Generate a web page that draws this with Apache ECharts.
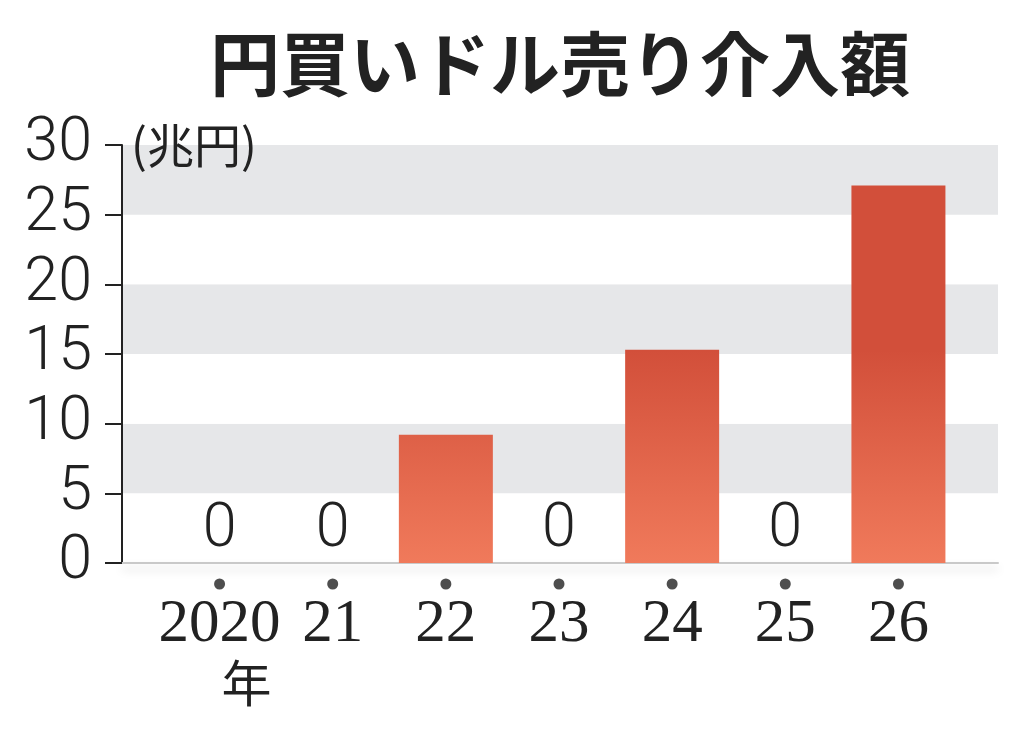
<!DOCTYPE html>
<html>
<head>
<meta charset="utf-8">
<script src="https://cdn.jsdelivr.net/npm/echarts@6/dist/echarts.min.js"></script>
<style>
html,body{margin:0;padding:0;background:#fff;}
#chart{width:1024px;height:739px;}
</style>
</head>
<body>
<div id="chart"></div>
<script>
const titleText = '円買いドル売り介入額';
const unitText = '(兆円)';
const years = ['2020', '21', '22', '23', '24', '25', '26'];
const amounts = [0, 0, 9.2, 0, 15.3, 0, 27.1];
const yMin = 0;
const yMax = 30;
const yStep = 5;

const chart = echarts.init(document.getElementById('chart'));
const ink = '#222222';
const barGradient = {
  type: 'linear', x: 0, y: 350, x2: 0, y2: 563, global: true,
  colorStops: [
    { offset: 0, color: '#d24f3a' },
    { offset: 1, color: '#f07a5b' }
  ]
};

chart.setOption({
  backgroundColor: '#ffffff',
  animation: false,
  title: [
    {
      text: titleText, left: 205, top: 24,
      textStyle: { fontFamily: 'Noto Sans CJK JP', fontWeight: 'bold', fontSize: 70, color: ink }
    },
    {
      text: unitText, left: 126, top: 117,
      textStyle: { fontFamily: 'Noto Sans CJK JP', fontWeight: 'normal', fontSize: 47, color: ink }
    }
  ],
  grid: [
    { left: 122, right: 26, top: 145, bottom: 176 },
    { left: 163, width: 792, top: 145, bottom: 176 }
  ],
  xAxis: [
    {
      gridIndex: 0, type: 'value', min: 0, max: 1,
      axisLine: { show: true, onZero: false, lineStyle: { color: '#c9c9c9', width: 2, shadowColor: 'rgba(0,0,0,0.18)', shadowBlur: 10, shadowOffsetY: 6 } },
      axisTick: { show: false }, axisLabel: { show: false }, splitLine: { show: false }
    },
    {
      gridIndex: 1, type: 'category', data: years,
      axisLine: { show: false }, axisTick: { show: false },
      axisLabel: {
        interval: 0, hideOverlap: false,
        margin: 33, color: ink, fontFamily: 'Liberation Serif', fontSize: 61, lineHeight: 58,
        formatter: (v, i) => i === 0 ? v + '\n{nen|年}' : v,
        rich: { nen: { fontFamily: 'Noto Sans CJK JP', fontSize: 50, lineHeight: 58, color: ink, padding: [0, 0, 0, 54] } }
      }
    }
  ],
  yAxis: [
    {
      gridIndex: 0, type: 'value', min: yMin, max: yMax, interval: yStep,
      axisLine: { show: true, lineStyle: { color: ink, width: 2 } },
      axisTick: { show: true, length: 17, lineStyle: { color: ink, width: 2 } },
      axisLabel: { margin: 30, color: ink, fontFamily: 'Roboto', fontWeight: 300, fontSize: 61 },
      splitLine: { show: false },
      splitArea: { show: true, areaStyle: { color: ['#ffffff', '#e6e7e9'] } }
    },
    {
      gridIndex: 1, type: 'value', min: yMin, max: yMax, interval: yStep, show: false,
      splitLine: { show: false }
    }
  ],
  series: [
    {
      type: 'bar', xAxisIndex: 1, yAxisIndex: 1, data: amounts, barWidth: 94,
      itemStyle: { color: barGradient },
      label: {
        show: true, position: 'top', distance: 2, color: ink,
        fontFamily: 'Roboto', fontWeight: 300, fontSize: 61,
        formatter: p => p.value === 0 ? '0' : ''
      },
      z: 3
    },
    {
      type: 'scatter', xAxisIndex: 1, yAxisIndex: 1,
      data: years.map(y => [y, yMin]),
      symbol: 'circle', symbolSize: 11, symbolOffset: [0, 21], clip: false,
      itemStyle: { color: ink }, silent: true, z: 4
    }
  ]
});
</script>
</body>
</html>
